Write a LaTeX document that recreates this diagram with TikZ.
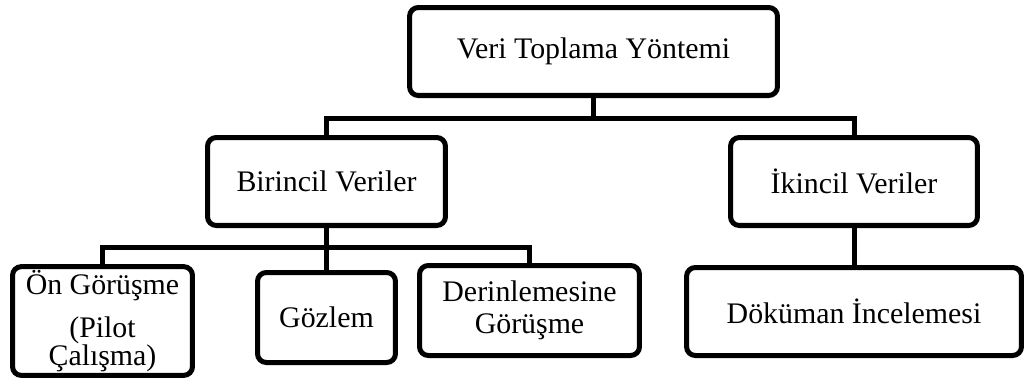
\documentclass[tikz,border=0pt]{standalone}
\usepackage{fontspec}
\setmainfont{Liberation Serif}
\begin{document}
\begin{tikzpicture}[x=0.02cm,y=-0.02cm,
  box/.style={draw=black, line width=2.85pt, rounded corners=5pt, fill=white,
    align=center, inner sep=2pt, font=\fontsize{17}{18.5}\selectfont},
  conn/.style={draw=black, line width=2.85pt}]
\useasboundingbox (0,0) rectangle (1026,383);
\node[box, minimum width=7.36cm, minimum height=1.76cm] (top) at (593.5,51.5) {Veri Toplama Yöntemi};
\node[box, minimum width=4.76cm, minimum height=1.76cm] (bir) at (326.5,181.5) {Birincil Veriler};
\node[box, minimum width=4.94cm, minimum height=1.76cm] (iki) at (854,181.5) {İkincil Veriler};
\node[box, minimum width=3.60cm, minimum height=2.14cm, font=\fontsize{17}{16}\selectfont] (on) at (102.5,321) {Ön Görüşme\\[8.5pt](Pilot\\Çalışma)};
\node[box, minimum width=2.76cm, minimum height=1.80cm] (goz) at (326.5,317.5) {Gözlem};
\node[box, minimum width=4.40cm, minimum height=1.80cm] (der) at (529.5,310.5) {Derinlemesine\\Görüşme};
\node[box, minimum width=6.70cm, minimum height=1.76cm] (dok) at (854,311.5) {Döküman İncelemesi};
\coordinate (h1) at (0,118);
\coordinate (h2) at (0,247);
\draw[conn] (top.south) -- (top.south |- h1);
\draw[conn] (bir.north) |- (iki.north |- h1) -- (iki.north);
\draw[conn] (bir.south) -- (goz.north);
\draw[conn] (on.north) |- (der.north |- h2) -- (der.north);
\draw[conn] (iki.south) -- (dok.north);
\end{tikzpicture}
\end{document}
